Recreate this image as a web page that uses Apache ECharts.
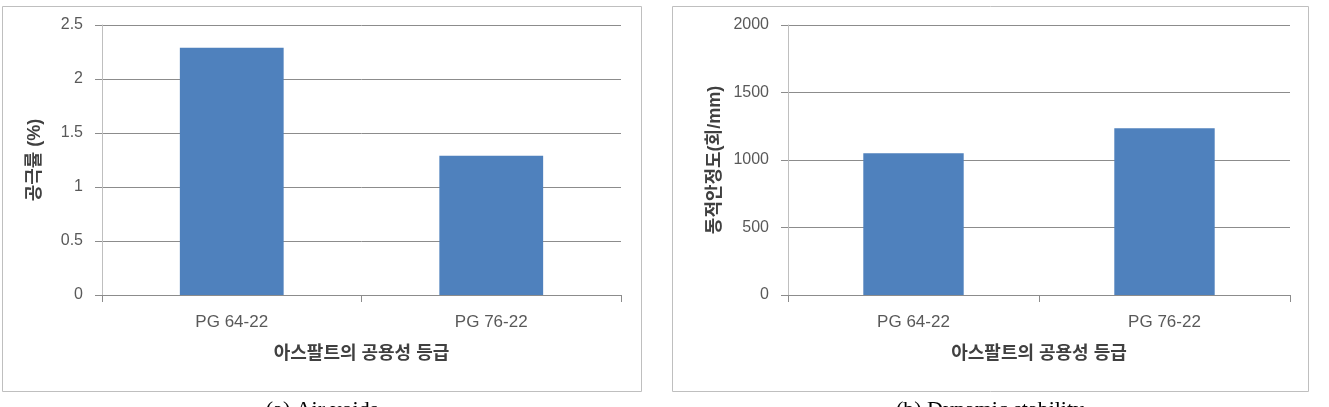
<!DOCTYPE html>
<html>
<head>
<meta charset="utf-8">
<script src="https://cdn.jsdelivr.net/npm/echarts@6/dist/echarts.min.js"></script>
<style>
html,body{margin:0;padding:0;background:#fff;}
#chart{width:1329px;height:407px;}
</style>
</head>
<body>
<div id="chart"></div>
<script>
const categories = ['PG 64-22', 'PG 76-22'];
const airVoids = [2.29, 1.29];
const dynamicStability = [1050, 1235];
const xAxisTitle = '아스팔트의 공용성 등급';
const leftYTitle = '공극률 (%)';
const rightYTitle = '동적안정도(회/mm)';
const captions = ['(a) Air voids', '(b) Dynamic stability'];

const FONT = '"Liberation Sans", "Noto Sans CJK KR", sans-serif';
const BAR = '#4F81BD';
const GRID = '#8C8C8C';

function xAxisCfg(idx) {
  return {
    type: 'category', gridIndex: idx, data: categories,
    axisLine: {lineStyle: {color: GRID, width: 1}},
    axisTick: {show: true, length: 7, lineStyle: {color: GRID}},
    axisLabel: {fontSize: 17, color: '#595959', margin: 19, fontFamily: FONT},
    name: xAxisTitle, nameLocation: 'middle', nameGap: 50,
    nameTextStyle: {fontSize: 18, fontWeight: 'bold', color: '#404040', fontFamily: FONT}
  };
}
function yAxisCfg(idx, max, interval, name, gap) {
  return {
    type: 'value', gridIndex: idx, min: 0, max: max, interval: interval,
    axisLine: {show: true, lineStyle: {color: '#BFBFBF', width: 1}},
    axisTick: {show: true, length: 7, lineStyle: {color: GRID}},
    axisLabel: {fontSize: 16, color: '#595959', margin: 19, fontFamily: FONT,
      formatter: function (v) { return String(v); }},
    splitLine: {show: true, lineStyle: {color: GRID, width: 1}},
    name: name, nameLocation: 'middle', nameRotate: 90, nameGap: gap,
    nameTextStyle: {fontSize: 18, fontWeight: 'bold', color: '#404040', fontFamily: FONT}
  };
}

const chart = echarts.init(document.getElementById('chart'), null, {renderer: 'canvas'});
chart.setOption({
  animation: false,
  backgroundColor: '#ffffff',
  grid: [
    {left: 102, right: 708, top: 25, bottom: 112},
    {left: 788, right: 39, top: 25, bottom: 112}
  ],
  xAxis: [xAxisCfg(0), xAxisCfg(1)],
  yAxis: [
    yAxisCfg(0, 2.5, 0.5, leftYTitle, 58),
    yAxisCfg(1, 2000, 500, rightYTitle, 64)
  ],
  series: [
    {type: 'bar', xAxisIndex: 0, yAxisIndex: 0, data: airVoids, barWidth: '40%', itemStyle: {color: BAR}},
    {type: 'bar', xAxisIndex: 1, yAxisIndex: 1, data: dynamicStability, barWidth: '40%', itemStyle: {color: BAR}}
  ],
  graphic: [
    {type: 'rect', shape: {x: 2.5, y: 6.5, width: 639, height: 385}, style: {fill: 'none', stroke: '#BFBFBF', lineWidth: 1}, z: -1},
    {type: 'rect', shape: {x: 672.5, y: 6.5, width: 636, height: 385}, style: {fill: 'none', stroke: '#BFBFBF', lineWidth: 1}, z: -1},
    {type: 'text', x: 322, y: 399, style: {text: captions[0], fontSize: 22, fontFamily: '"Liberation Serif", serif', fill: '#000', textAlign: 'center', textVerticalAlign: 'top'}},
    {type: 'text', x: 990, y: 399, style: {text: captions[1], fontSize: 22, fontFamily: '"Liberation Serif", serif', fill: '#000', textAlign: 'center', textVerticalAlign: 'top'}}
  ]
});
</script>
</body>
</html>
